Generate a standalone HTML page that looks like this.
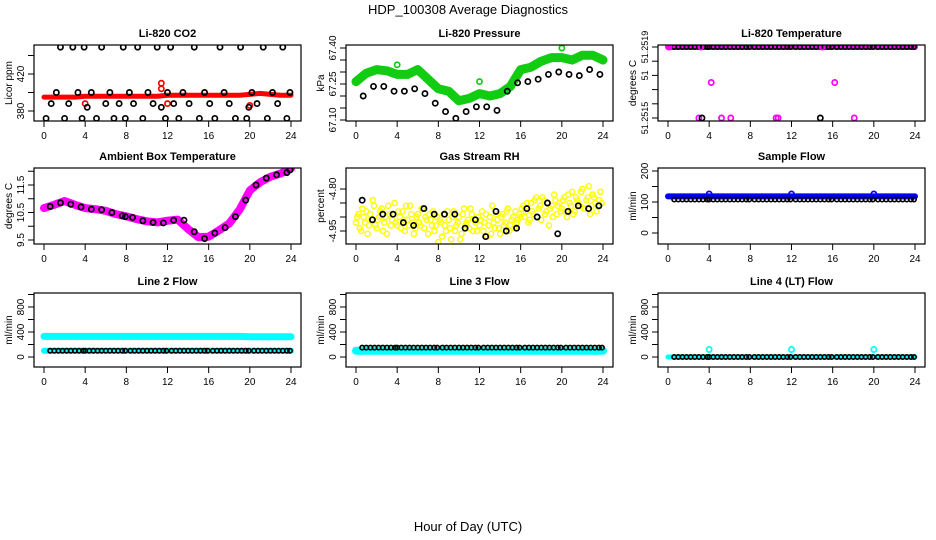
<!DOCTYPE html>
<html><head><meta charset="utf-8"><style>
html,body{margin:0;padding:0;background:#fff;}
svg{display:block;font-family:"Liberation Sans",sans-serif;}
</style></head><body>
<svg id="c" width="936" height="540" viewBox="0 0 936 540">
<text x="468" y="14" text-anchor="middle" font-size="13">HDP_100308  Average Diagnostics</text>
<text x="468" y="531" text-anchor="middle" font-size="13">Hour of Day (UTC)</text>
</svg>
<script>
// ---- data ----
const xTicks = [0,4,8,12,16,20,24];
const hourly = [0,1,2,3,4,5,6,7,8,9,10,11,12,13,14,15,16,17,18,19,20,21,22,23,24];
const halfHours = [0.5,1.5,2.5,3.5,4.5,5.5,6.5,7.5,8.5,9.5,10.5,11.5,12.5,13.5,14.5,15.5,16.5,17.5,18.5,19.5,20.5,21.5,22.5,23.5];
const flatHours = [0.6,1.0,1.4,1.8,2.2,2.6,3.0,3.4,3.8,4.0,4.4,4.8,5.2,5.6,6.0,6.4,6.8,7.2,7.6,7.9,8.4,8.8,9.2,9.6,10.0,10.4,10.8,11.2,11.6,11.9,12.4,12.8,13.2,13.6,14.0,14.4,14.8,15.2,15.6,15.9,16.4,16.8,17.2,17.6,18.0,18.4,18.8,19.2,19.6,19.9,20.4,20.8,21.2,21.6,22.0,22.4,22.8,23.2,23.6,23.9];
const co2BlackHours = [0.2,0.7,1.2,1.6,2.0,2.4,2.8,3.3,3.7,3.9,4.2,4.6,5.1,5.6,6.0,6.4,6.8,7.3,7.7,7.9,8.3,8.7,9.1,9.6,10.1,10.6,11.0,11.4,11.8,12.0,12.3,12.6,13.1,13.5,14.1,14.6,15.1,15.6,16.1,16.6,17.1,17.5,18.0,18.6,19.1,19.7,19.9,20.2,20.7,21.3,21.7,22.2,22.7,23.2,23.6,23.9];
const co2Black = [372,388,400,449,372,388,449,400,372,449,384,400,372,449,388,400,372,388,449,372,400,388,449,372,400,388,449,384,372,400,449,388,372,400,388,449,372,400,388,372,449,400,388,372,449,372,384,400,388,449,372,400,388,449,372,400];
const co2Red = [395,395,395,395,396,396,396,396,396,396,396,396,397,397,397,397,397,397,397,397,398,399,398,397,397];
const co2RedOut = [[11.4,410],[11.4,404],[4,388],[12,388],[20,386]];
const presGreen = [67.26,67.295,67.31,67.305,67.29,67.29,67.31,67.27,67.23,67.22,67.18,67.19,67.21,67.2,67.21,67.24,67.31,67.32,67.345,67.36,67.36,67.35,67.37,67.37,67.35];
const presBlack = [67.23,67.2,67.24,67.24,67.22,67.22,67.23,67.21,67.17,67.135,67.107,67.135,67.155,67.155,67.14,67.22,67.255,67.26,67.27,67.29,67.3,67.29,67.285,67.31,67.29];
const presGreenOut = [[4,67.33],[12,67.26],[20,67.4]];
const tempTop = 5;
const tempMagOut = [[4.2,2.5],[16.2,2.5],[3,0],[5.2,0],[6.1,0],[10.5,0],[10.7,0],[18.1,0],[0.1,5],[3.2,5],[15,5]];
const tempBlackOut = [[3.3,0],[14.8,0]];
const ambMag = [10.66,10.78,10.92,10.78,10.66,10.62,10.56,10.44,10.36,10.26,10.18,10.14,10.2,10.24,9.9,9.6,9.62,9.85,10.1,10.6,11.3,11.6,11.8,11.92,12.1];
const ambBlack = [10.72,10.85,10.8,10.7,10.62,10.6,10.5,10.38,10.32,10.2,10.14,10.12,10.22,10.22,9.8,9.55,9.75,9.95,10.35,10.95,11.5,11.75,11.87,11.95];
const rhYellow = [-4.92,-4.89,-4.95,-4.90,-4.88,-4.93,-4.91,-4.86,-4.94,-4.90,-4.87,-4.92,-4.96,-4.89,-4.91,-4.85,
-4.93,-4.90,-4.88,-4.95,-4.91,-4.86,-4.92,-4.94,-4.89,-4.93,-4.87,-4.90,-4.96,-4.91,-4.88,-4.93,
-4.99,-4.92,-4.89,-4.95,-4.91,-4.98,-4.88,-4.93,-4.90,-4.96,-4.87,-4.92,-4.94,-4.89,-4.91,-4.95,
-4.93,-4.88,-4.92,-4.97,-4.90,-4.86,-4.94,-4.91,-4.96,-4.89,-4.92,-4.87,-4.93,-4.90,-4.88,-4.91,
-4.90,-4.86,-4.88,-4.92,-4.85,-4.89,-4.83,-4.87,-4.91,-4.84,-4.88,-4.93,-4.86,-4.82,-4.89,-4.85,
-4.87,-4.83,-4.90,-4.85,-4.81,-4.88,-4.84,-4.86,-4.80,-4.87,-4.83,-4.89,-4.82,-4.85,-4.86,-4.81];
const rhYellow2 = [-4.90,-4.94,-4.87,-4.92,-4.96,-4.89,-4.84,-4.93,-4.91,-4.88,-4.95,-4.90,-4.86,-4.93,-4.89,-4.92,
-4.88,-4.94,-4.91,-4.86,-4.93,-4.89,-4.96,-4.90,-4.92,-4.87,-4.94,-4.91,-4.89,-4.93,-4.95,-4.90,
-4.91,-4.97,-4.93,-4.88,-4.94,-4.90,-4.95,-4.92,-4.98,-4.89,-4.93,-4.91,-4.87,-4.95,-4.92,-4.90,
-4.91,-4.95,-4.89,-4.93,-4.96,-4.92,-4.89,-4.94,-4.90,-4.93,-4.88,-4.95,-4.91,-4.94,-4.92,-4.89,
-4.87,-4.90,-4.85,-4.91,-4.88,-4.84,-4.90,-4.86,-4.83,-4.89,-4.85,-4.87,-4.90,-4.84,-4.86,-4.88,
-4.84,-4.88,-4.82,-4.86,-4.89,-4.83,-4.85,-4.81,-4.87,-4.84,-4.79,-4.86,-4.83,-4.88,-4.84,-4.85];
const rhBlack = [-4.84,-4.91,-4.89,-4.89,-4.92,-4.93,-4.87,-4.89,-4.89,-4.89,-4.94,-4.91,-4.97,-4.88,-4.95,-4.94,-4.87,-4.90,-4.85,-4.96,-4.88,-4.86,-4.87,-4.86];
const flowBlue = [118,118,118,118,118,118,118,118,118,118,118,118,118,118,118,118,118,118,118,118,118,118,118,118,118];
const flowBlackLevel = 108;
const flowBlueOut = [[4,126],[12,126],[20,126]];
const line2Cyan = [330,330,330,330,330,330,330,330,330,330,330,330,330,330,330,330,330,330,330,330,325,325,325,325,325];
const line2BlackLevel = 100;
const line3Cyan = [100,100,100,100,100,100,100,100,100,100,100,100,100,100,100,100,100,100,100,100,100,100,100,100,100];
const line3BlackLevel = 150;
const line4Cyan = [0,0,0,0,0,0,0,0,0,0,0,0,0,0,0,0,0,0,0,0,0,0,0,0,0];
const line4BlackLevel = 0;
const line4CyanOut = [[4,120],[12,120],[20,120]];

// ---- drawing ----
const svg = document.getElementById('c');
const NS = 'http://www.w3.org/2000/svg';
function mk(tag, attrs, parent){const e=document.createElementNS(NS,tag);for(const k in attrs)e.setAttribute(k,attrs[k]);(parent||svg).appendChild(e);return e;}
const cols=[34,346,658], rows=[[45,121],[168,244],[293,367]];
function panel(ci,ri,title,ylab,yA,yB,ticks,labels,name,lfs){
  const L=cols[ci],R=L+267,T=rows[ri][0],B=rows[ri][1];
  const g=mk('g',{});
  
  
  const sx=h=>L+10+h*247/24;
  const sy=v=>yA[1]+(v-yA[0])*(yB[1]-yA[1])/(yB[0]-yA[0]);
  const t=mk('text',{x:(L+R)/2,y:T-8,'text-anchor':'middle','font-size':11,'font-weight':'bold'},g);t.textContent=title;
  
  
  xTicks.forEach(h=>{const x=sx(h);mk('line',{x1:x,x2:x,y1:B,y2:B+6,stroke:'#000'},g);
    const tx=mk('text',{x:x,y:B+18,'text-anchor':'middle','font-size':10},g);tx.textContent=h;
    
    });
  ticks.forEach((v,i)=>{const y=sy(v);mk('line',{x1:L-6,x2:L,y1:y,y2:y,stroke:'#000'},g);
    if(labels[i]){const tl=mk('text',{x:L-10,y:y,'text-anchor':'middle','font-size':lfs||10,transform:`rotate(-90 ${L-10} ${y})`},g);tl.textContent=labels[i];
      
      }});
  const yl=mk('text',{x:L-22,y:(T+B)/2,'text-anchor':'middle','font-size':10,transform:`rotate(-90 ${L-22} ${(T+B)/2})`},g);yl.textContent=ylab;
  
  
  const cp='cp'+ci+ri; const d=mk('clipPath',{id:cp},g); mk('rect',{x:L,y:T,width:267,height:B-T},d);
  const plot=mk('g',{'clip-path':`url(#${cp})`},g);
  mk('rect',{x:L,y:T,width:267,height:B-T,fill:'none',stroke:'#000','stroke-width':1.2},g);
  return {sx,sy,plot};
}
function band(p,xs,vals,color,w,name){
  const pts=xs.map((h,i)=>p.sx(h)+','+p.sy(vals[i])).join(' ');
  const e=mk('polyline',{points:pts,fill:'none',stroke:color,'stroke-width':w,'stroke-linecap':'round','stroke-linejoin':'round'},p.plot);
  
  
}
function dots(p,xs,vals,color,name,sw,r){
  xs.forEach((h,i)=>{const c=mk('circle',{cx:p.sx(h),cy:p.sy(vals[i]),r:r||2.6,fill:'none',stroke:color,'stroke-width':sw||1.7},p.plot);
    
    });
}
function pairs(p,arr,color,name){dots(p,arr.map(a=>a[0]),arr.map(a=>a[1]),color,name);}
const blackHours = halfHours.map(h=>h+0.1);

let p=panel(0,0,'Li-820 CO2','Licor ppm',[380,111],[420,74],[380,400,420,440],['380','','420',''],'co2');
band(p,hourly,co2Red,'#f00',5,'co2-red-series');
pairs(p,co2RedOut,'#f00','co2-red-point');
dots(p,co2BlackHours,co2Black,'#000','co2-black-point');

p=panel(1,0,'Li-820 Pressure','kPa',[67.10,120],[67.40,48],[67.10,67.15,67.20,67.25,67.30,67.35,67.40],['67.10','','','67.25','','','67.40'],'pressure');
band(p,hourly,presGreen,'#1c1',9,'pressure-green-series');
pairs(p,presGreenOut,'#1c1','pressure-green-point');
dots(p,hourly.slice(1).map(h=>h-0.3),presBlack.slice(1),'#000','pressure-black-point');

p=panel(2,0,'Li-820 Temperature','degrees C',[0,118],[5,47],[0,1,2,3,4,5],['51.2515','','','51','','51.2519'],'temperature',9);
band(p,hourly,hourly.map(()=>tempTop),'#f0f',6,'temperature-magenta-series');
dots(p,flatHours,flatHours.map(()=>tempTop),'#000','temperature-black-point',1.6,2.2);
pairs(p,tempMagOut,'#f0f','temperature-magenta-point');
pairs(p,tempBlackOut,'#000','temperature-black-outlier');

p=panel(0,1,'Ambient Box Temperature','degrees C',[9.5,240],[11.5,185],[9.5,10,10.5,11,11.5,12],['9.5','','10.5','','11.5',''],'ambient');
band(p,hourly,ambMag,'#f0f',8,'ambient-magenta-series');
dots(p,blackHours,ambBlack,'#000','ambient-black-point');
pairs(p,[[23.9,12.05],[7.9,10.35]],'#000','ambient-black-point');

p=panel(1,1,'Gas Stream RH','percent',[-4.80,189],[-4.95,231],[-4.80,-4.85,-4.90,-4.95],['-4.80','','','-4.95'],'rh');
dots(p,rhYellow.map((v,i)=>i*0.25),rhYellow,'#ff0','rh-yellow-point',1.4);
dots(p,rhYellow2.map((v,i)=>i*0.25+0.125),rhYellow2,'#ff0','rh-yellow-point',1.4);
dots(p,blackHours,rhBlack,'#000','rh-black-point');

p=panel(2,1,'Sample Flow','ml/min',[0,233],[200,171],[0,50,100,150,200],['0','','100','','200'],'sample-flow');
band(p,hourly,flowBlue,'#00f',6,'sample-flow-blue-series');
pairs(p,flowBlueOut,'#00f','sample-flow-blue-point');
dots(p,flatHours,flatHours.map(()=>flowBlackLevel),'#000','sample-flow-black-point',1.6,2.2);

const lfT=[0,200,400,600,800,1000], lfL=['0','','400','','800',''];
p=panel(0,2,'Line 2 Flow','ml/min',[0,357],[800,307],lfT,lfL,'line2');
band(p,hourly,line2Cyan,'#0ff',7,'line2-cyan-series');
band(p,hourly,line3Cyan,'#0ff',6,'line2-cyan-low-series');
dots(p,flatHours,flatHours.map(()=>line2BlackLevel),'#000','line2-black-point',1.6,2.2);

p=panel(1,2,'Line 3 Flow','ml/min',[0,357],[800,307],lfT,lfL,'line3');
band(p,hourly,line3Cyan,'#0ff',8,'line3-cyan-series');
dots(p,flatHours,flatHours.map(()=>line3BlackLevel),'#000','line3-black-point',1.6,2.2);

p=panel(2,2,'Line 4 (LT) Flow','ml/min',[0,357],[800,307],lfT,lfL,'line4');
band(p,hourly,line4Cyan,'#0ff',5,'line4-cyan-series');
pairs(p,line4CyanOut,'#0ff','line4-cyan-point');
dots(p,flatHours,flatHours.map(()=>line4BlackLevel),'#000','line4-black-point',1.6,2.2);
</script>
</body></html>
